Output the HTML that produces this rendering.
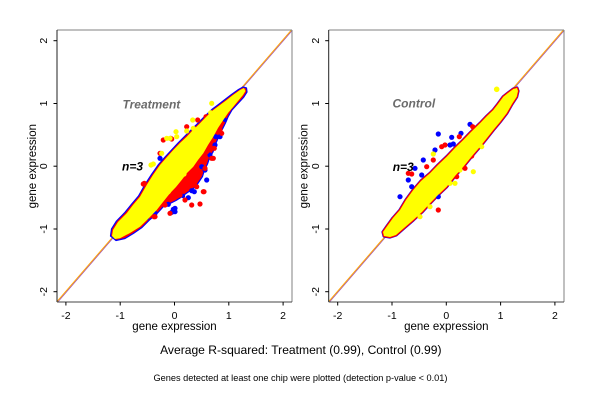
<!DOCTYPE html>
<html>
<head>
<meta charset="utf-8">
<style>
html,body{margin:0;padding:0;background:#fff;}
svg{display:block;}
text{font-family:"Liberation Sans",Arial,sans-serif;}
</style>
</head>
<body>
<svg width="600" height="400" viewBox="0 0 600 400" xmlns="http://www.w3.org/2000/svg">
<rect x="0" y="0" width="600" height="400" fill="#fff"/>

<!-- ================= LEFT PANEL (Treatment) ================= -->
<line x1="57.8" y1="302" x2="292.4" y2="30.2" stroke="#a050b0" stroke-width="0.8"/>
<line x1="57" y1="301.6" x2="291.6" y2="29.8" stroke="#ffa500" stroke-width="1"/>

<polygon fill="#ff0000" stroke="#0000ff" stroke-width="1.2" stroke-linejoin="round"
 points="110.5,236 111.5,229 116.5,221 125,212.3 131.5,204.3 138.5,196 145,184.5 151.5,174.5 158.5,164.5 165.5,156.5 172,149.5 178.5,142.5 185,136 191.5,129.5 198.5,122.7 204.5,116.5 211.8,109.5 218.5,104.5 225,99.5 231.5,94.5 238.5,89.5 243,87 246.5,88 247,92 243.5,97.5 237.5,104 232,110 228,117 225.5,123 222,130 219.5,135 216,143 213,152 209.5,158 207.5,164 204.5,170 202.5,176.5 198.5,182.5 195.5,187 190.5,190.5 186,193.5 180,198 176,200.5 170,203.5 163.5,206.5 158,212.5 150,219.5 142,227.5 133.3,233.5 125,238.5 116,240.5"/>
<g fill="#0000ff">
<circle cx="160" cy="158.3" r="2.6"/><circle cx="175" cy="211.7" r="2.6"/><circle cx="171.7" cy="212.3" r="2.6"/>
<circle cx="175" cy="208.3" r="2.6"/><circle cx="188.3" cy="197.7" r="2.6"/><circle cx="194.3" cy="191.7" r="2.6"/>
<circle cx="206.7" cy="180" r="2.6"/><circle cx="201.7" cy="166.7" r="2.6"/><circle cx="205" cy="170" r="2.6"/>
<circle cx="210" cy="155" r="2.6"/><circle cx="215.7" cy="136.7" r="2.6"/><circle cx="215" cy="145" r="2.6"/>
<circle cx="155" cy="213.3" r="2.6"/><circle cx="168.3" cy="204.3" r="2.6"/><circle cx="133.3" cy="224" r="2.6"/>
<circle cx="191.7" cy="190.7" r="2.6"/><circle cx="220" cy="136.7" r="2.6"/><circle cx="173.3" cy="209.3" r="2.6"/>
<circle cx="225" cy="120" r="2.2"/><circle cx="147" cy="218" r="2.2"/><circle cx="183" cy="196" r="2.2"/>
</g>
<g fill="#ff0000">
<circle cx="163.3" cy="140" r="2.6"/><circle cx="171.7" cy="139" r="2.6"/><circle cx="160" cy="153.3" r="2.6"/>
<circle cx="144.3" cy="183.3" r="2.6"/><circle cx="141.7" cy="221.7" r="2.6"/><circle cx="155" cy="216.7" r="2.6"/>
<circle cx="170" cy="213.3" r="2.6"/><circle cx="191.7" cy="205" r="2.6"/><circle cx="203.3" cy="191.7" r="2.6"/>
<circle cx="196.7" cy="186.7" r="2.6"/><circle cx="211.7" cy="158.3" r="2.6"/><circle cx="214.3" cy="148.3" r="2.6"/>
<circle cx="206.7" cy="151.7" r="2.6"/><circle cx="220" cy="130" r="2.6"/><circle cx="221.7" cy="133.3" r="2.6"/>
<circle cx="204" cy="191.7" r="2.6"/><circle cx="200" cy="204" r="2.6"/><circle cx="205" cy="168.3" r="2.6"/>
<circle cx="213.3" cy="158.3" r="2.6"/><circle cx="218.3" cy="128.3" r="2.6"/><circle cx="143.3" cy="184" r="2.6"/>
<circle cx="154" cy="216.7" r="2.6"/><circle cx="142.7" cy="221" r="2.6"/><circle cx="197.7" cy="120" r="2.6"/>
<circle cx="206" cy="116.7" r="2.6"/><circle cx="186.7" cy="126.7" r="2.6"/><circle cx="170.7" cy="138.3" r="2.6"/>
<circle cx="180" cy="195" r="2.6"/><circle cx="185" cy="200" r="2.6"/><circle cx="165" cy="205" r="2.6"/>
</g>
<polygon fill="#ffff00"
 points="112,236 113,230 118,222 126.7,213.3 133,205 140,196.7 146.7,185 153,175 160,165 167,157 173.3,150 180,143 186.7,136.7 193,130 200,123.3 206,117 213.3,110 220,105 226.7,100 233,95 240,90 244,88 245.5,91 243,95 238,101 233.3,106.7 228,113 223.3,120 218,128 213.3,136.7 208,145 203.3,153.3 198,160 193.3,166.7 187,173 181.7,180 176,187 170,193.3 163,202 156.7,210 148,219 140,226.7 130,233 120,238.3 115,239"/>
<g fill="#ffff00">
<circle cx="211.7" cy="103.3" r="2.6"/><circle cx="210.7" cy="112.7" r="2.6"/><circle cx="192.7" cy="120" r="2.6"/>
<circle cx="176" cy="131.7" r="2.6"/><circle cx="166.7" cy="138.3" r="2.6"/><circle cx="176.7" cy="136.7" r="2.6"/>
<circle cx="153.3" cy="164" r="2.6"/><circle cx="170" cy="138.3" r="2.6"/><circle cx="186.7" cy="131" r="2.6"/>
<circle cx="193.3" cy="128.3" r="2.6"/><circle cx="161.7" cy="153.3" r="2.6"/><circle cx="151" cy="165" r="2.6"/>
<circle cx="184" cy="174" r="2.6"/><circle cx="168.3" cy="191.7" r="2.6"/>
</g>

<line x1="57" y1="30" x2="292" y2="30" stroke="#808080" stroke-width="1"/>
<line x1="292" y1="30" x2="292" y2="302" stroke="#808080" stroke-width="1"/>
<line x1="57" y1="30" x2="57" y2="302" stroke="#222" stroke-width="1"/>
<line x1="57" y1="302" x2="292" y2="302" stroke="#444" stroke-width="1"/>
<g stroke="#000" stroke-width="1">
<line x1="65.9" y1="302" x2="65.9" y2="305.5"/><line x1="120.2" y1="302" x2="120.2" y2="305.5"/>
<line x1="174.5" y1="302" x2="174.5" y2="305.5"/><line x1="228.8" y1="302" x2="228.8" y2="305.5"/>
<line x1="283.1" y1="302" x2="283.1" y2="305.5"/>
<line x1="53.5" y1="40.7" x2="57" y2="40.7"/><line x1="53.5" y1="103.5" x2="57" y2="103.5"/>
<line x1="53.5" y1="166.2" x2="57" y2="166.2"/><line x1="53.5" y1="229" x2="57" y2="229"/>
<line x1="53.5" y1="291.7" x2="57" y2="291.7"/>
</g>
<g font-size="10.5" fill="#000" text-anchor="middle">
<text x="65.9" y="319">-2</text><text x="120.2" y="319">-1</text><text x="174.5" y="319">0</text>
<text x="228.8" y="319">1</text><text x="283.1" y="319">2</text>
<text transform="translate(47,40.7) rotate(-90)">2</text>
<text transform="translate(47,103.5) rotate(-90)">1</text>
<text transform="translate(47,166.2) rotate(-90)">0</text>
<text transform="translate(47,229) rotate(-90)">-1</text>
<text transform="translate(47,291.7) rotate(-90)">-2</text>
</g>
<text x="174.5" y="330" font-size="11.5" text-anchor="middle" fill="#000">gene expression</text>
<text transform="translate(36,166.2) rotate(-90)" font-size="11.5" text-anchor="middle" fill="#000">gene expression</text>
<text x="122.5" y="108.3" font-size="12" font-weight="bold" font-style="italic" fill="#6b6b6b">Treatment</text>
<text x="122" y="170.3" font-size="12" font-weight="bold" font-style="italic" fill="#000">n=3</text>

<!-- ================= RIGHT PANEL (Control) ================= -->
<line x1="329.5" y1="302" x2="564.4" y2="30.2" stroke="#a050b0" stroke-width="0.8"/>
<line x1="328.7" y1="301.6" x2="563.6" y2="29.8" stroke="#ffa500" stroke-width="1"/>

<polygon fill="#ff0000" stroke="#0000ff" stroke-width="3.2" stroke-linejoin="round"
 points="383,232 386.7,226.7 393,218 400,210 406,200 413.3,190 421,181 430,173.3 438,165 446.7,156.7 455,148 463.3,140 471,132 480,123.3 487,116 493.3,110 498,104 503.3,96.7 508,93 513.3,89 517,88 518,91 516.7,96.7 512,104 506.7,113.3 500,122 493.3,130 487,138 480,146.7 472,156 463.3,166.7 455,176 446.7,186.7 438,195 430,203.3 422,212 413.3,220 404,228 396,235 390,237 384,236"/>
<polygon fill="none" stroke="#ff0000" stroke-width="2.4" stroke-linejoin="round"
 points="383,232 386.7,226.7 393,218 400,210 406,200 413.3,190 421,181 430,173.3 438,165 446.7,156.7 455,148 463.3,140 471,132 480,123.3 487,116 493.3,110 498,104 503.3,96.7 508,93 513.3,89 517,88 518,91 516.7,96.7 512,104 506.7,113.3 500,122 493.3,130 487,138 480,146.7 472,156 463.3,166.7 455,176 446.7,186.7 438,195 430,203.3 422,212 413.3,220 404,228 396,235 390,237 384,236"/>
<g fill="#0000ff">
<circle cx="438.3" cy="134" r="2.6"/><circle cx="461" cy="133.3" r="2.6"/><circle cx="470" cy="124.3" r="2.6"/>
<circle cx="435" cy="150" r="2.6"/><circle cx="450" cy="145" r="2.6"/><circle cx="415" cy="168.3" r="2.6"/>
<circle cx="408.3" cy="180" r="2.6"/><circle cx="400" cy="196.7" r="2.6"/><circle cx="421.7" cy="175" r="2.6"/>
<circle cx="438.3" cy="196.7" r="2.6"/><circle cx="423.3" cy="160" r="2.6"/><circle cx="411.7" cy="186.7" r="2.6"/>
<circle cx="451.7" cy="137.3" r="2.6"/><circle cx="453.3" cy="144" r="2.6"/>
</g>
<g fill="#ff0000">
<circle cx="408.3" cy="173.3" r="2.6"/><circle cx="411.7" cy="174" r="2.6"/><circle cx="433.3" cy="160" r="2.6"/>
<circle cx="445" cy="145" r="2.6"/><circle cx="459.3" cy="136.7" r="2.6"/><circle cx="472.7" cy="126.7" r="2.6"/>
<circle cx="476.7" cy="133.3" r="2.6"/><circle cx="456.7" cy="176.7" r="2.6"/><circle cx="438.3" cy="210" r="2.6"/>
<circle cx="486.7" cy="131.7" r="2.6"/><circle cx="465" cy="168.3" r="2.6"/><circle cx="426.7" cy="166.7" r="2.6"/>
<circle cx="441.7" cy="146.7" r="2.6"/><circle cx="478.3" cy="143.3" r="2.6"/><circle cx="471.7" cy="156" r="2.6"/>
</g>
<polygon fill="#ffff00"
 points="383,232 386.7,226.7 393,218 400,210 406,200 413.3,190 421,181 430,173.3 438,165 446.7,156.7 455,148 463.3,140 471,132 480,123.3 487,116 493.3,110 498,104 503.3,96.7 508,93 513.3,89 517,88 518,91 516.7,96.7 512,104 506.7,113.3 500,122 493.3,130 487,138 480,146.7 472,156 463.3,166.7 455,176 446.7,186.7 438,195 430,203.3 422,212 413.3,220 404,228 396,235 390,237 384,236"/>
<g fill="#ffff00">
<circle cx="496.7" cy="89.3" r="2.8"/><circle cx="473.3" cy="171.7" r="2.6"/><circle cx="460" cy="170" r="2.6"/>
<circle cx="450" cy="183.3" r="2.6"/><circle cx="448.3" cy="180" r="2.6"/><circle cx="430" cy="206.7" r="2.6"/>
<circle cx="420" cy="216.7" r="2.6"/><circle cx="428.3" cy="198.3" r="2.6"/><circle cx="481.7" cy="146.7" r="2.6"/>
<circle cx="433.3" cy="154" r="2.6"/><circle cx="455" cy="183.3" r="2.6"/>
</g>

<line x1="328.7" y1="30" x2="564" y2="30" stroke="#808080" stroke-width="1"/>
<line x1="564" y1="30" x2="564" y2="302" stroke="#808080" stroke-width="1"/>
<line x1="328.7" y1="30" x2="328.7" y2="302" stroke="#222" stroke-width="1"/>
<line x1="328.7" y1="302" x2="564" y2="302" stroke="#444" stroke-width="1"/>
<g stroke="#000" stroke-width="1">
<line x1="337.7" y1="302" x2="337.7" y2="305.5"/><line x1="392" y1="302" x2="392" y2="305.5"/>
<line x1="446.3" y1="302" x2="446.3" y2="305.5"/><line x1="500.6" y1="302" x2="500.6" y2="305.5"/>
<line x1="554.9" y1="302" x2="554.9" y2="305.5"/>
<line x1="325.2" y1="40.7" x2="328.7" y2="40.7"/><line x1="325.2" y1="103.5" x2="328.7" y2="103.5"/>
<line x1="325.2" y1="166.2" x2="328.7" y2="166.2"/><line x1="325.2" y1="229" x2="328.7" y2="229"/>
<line x1="325.2" y1="291.7" x2="328.7" y2="291.7"/>
</g>
<g font-size="10.5" fill="#000" text-anchor="middle">
<text x="337.7" y="319">-2</text><text x="392" y="319">-1</text><text x="446.3" y="319">0</text>
<text x="500.6" y="319">1</text><text x="554.9" y="319">2</text>
<text transform="translate(318.9,40.7) rotate(-90)">2</text>
<text transform="translate(318.9,103.5) rotate(-90)">1</text>
<text transform="translate(318.9,166.2) rotate(-90)">0</text>
<text transform="translate(318.9,229) rotate(-90)">-1</text>
<text transform="translate(318.9,291.7) rotate(-90)">-2</text>
</g>
<text x="446.3" y="330" font-size="11.5" text-anchor="middle" fill="#000">gene expression</text>
<text transform="translate(307.7,166.2) rotate(-90)" font-size="11.5" text-anchor="middle" fill="#000">gene expression</text>
<text x="392.5" y="107.6" font-size="12" font-weight="bold" font-style="italic" fill="#6b6b6b">Control</text>
<text x="392.7" y="171" font-size="12" font-weight="bold" font-style="italic" fill="#000">n=3</text>

<text x="300.8" y="354.2" font-size="12.1" text-anchor="middle" fill="#000">Average R-squared: Treatment (0.99), Control (0.99)</text>
<text x="300.5" y="381.2" font-size="9.2" text-anchor="middle" fill="#000">Genes detected at least one chip were plotted (detection p-value &lt; 0.01)</text>
</svg>
</body>
</html>
